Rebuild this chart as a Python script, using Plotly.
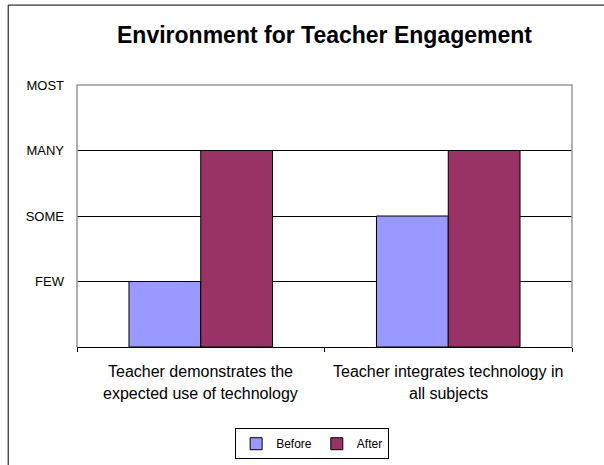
import plotly.graph_objects as go

CATEGORIES = [
    "Teacher demonstrates the expected use of technology",
    "Teacher integrates technology in all subjects",
]
CATEGORY_LINES = [
    ("Teacher demonstrates the", "expected use of technology"),
    ("Teacher integrates technology in", "all subjects"),
]
BEFORE = [1, 2]
AFTER = [3, 3]
LEVEL_VALUES = [1, 2, 3, 4]
LEVEL_LABELS = ["FEW", "SOME", "MANY", "MOST"]

FONT = "Arial, Liberation Sans, sans-serif"

fig = go.Figure()
fig.add_trace(go.Bar(
    x=CATEGORIES, y=BEFORE, name="Before",
    marker={"color": "#9999FF", "line": {"color": "#000000", "width": 1}},
))
fig.add_trace(go.Bar(
    x=CATEGORIES, y=AFTER, name="After",
    marker={"color": "#993366", "line": {"color": "#000000", "width": 1}},
))

# category labels: one annotation per line to get Excel-like line spacing
annotations = []
for cat, (l1, l2) in zip(CATEGORIES, CATEGORY_LINES):
    for txt, shift in ((l1, -24), (l2, -46)):
        annotations.append({
            "text": txt, "x": cat, "xref": "x", "y": 0, "yref": "paper",
            "yshift": shift, "yanchor": "middle", "xanchor": "center",
            "showarrow": False, "font": {"size": 16, "color": "#000000", "family": FONT},
        })

fig.update_layout(
    width=604, height=465,
    margin={"l": 77, "r": 32, "t": 85, "b": 118, "autoexpand": False},
    paper_bgcolor="white", plot_bgcolor="white",
    font={"family": FONT, "color": "#000000"},
    title={
        "text": "<b>Environment for Teacher Engagement</b>",
        "x": 0.5, "xref": "paper", "xanchor": "center",
        "y": 0.925, "yref": "container", "yanchor": "middle",
        "font": {"size": 23, "color": "#000000", "family": FONT},
    },
    barmode="group", bargap=0.42, bargroupgap=0,
    showlegend=True,
    legend={
        "orientation": "h", "x": 0.475, "xanchor": "center",
        "y": -0.31, "yanchor": "top",
        "bordercolor": "#000000", "borderwidth": 1,
        "font": {"size": 12, "family": FONT},
        "itemwidth": 30, "tracegroupgap": 0,
    },
    annotations=annotations,
    shapes=[
        # gray plot frame (left, top, right)
        {"type": "path", "xref": "paper", "yref": "paper",
         "path": "M 0,0 L 0,1 L 1,1 L 1,0",
         "line": {"color": "#999999", "width": 1.5}, "layer": "above"},
        # outer chart border (cropped)
        {"type": "path", "xref": "paper", "yref": "paper",
         "path": "M -0.139,-0.6 L -0.139,1.305 L 1.2,1.305",
         "line": {"color": "#000000", "width": 1}, "layer": "above"},
    ],
)
fig.update_xaxes(
    showticklabels=False, showgrid=False,
    showline=True, linecolor="#000000", linewidth=1,
    ticks="outside", tickson="boundaries", ticklen=4, tickcolor="#000000",
)
fig.update_yaxes(
    range=[0, 4], tickvals=LEVEL_VALUES, ticktext=LEVEL_LABELS,
    showgrid=True, gridcolor="#000000", gridwidth=1,
    zeroline=False, showline=False, ticks="",
    ticklabelstandoff=12,
    tickfont={"size": 13, "color": "#000000", "family": FONT},
)

fig.write_html(
    "out.html",
    config={"displayModeBar": False},
    post_script="document.body.style.margin='0';",
)
